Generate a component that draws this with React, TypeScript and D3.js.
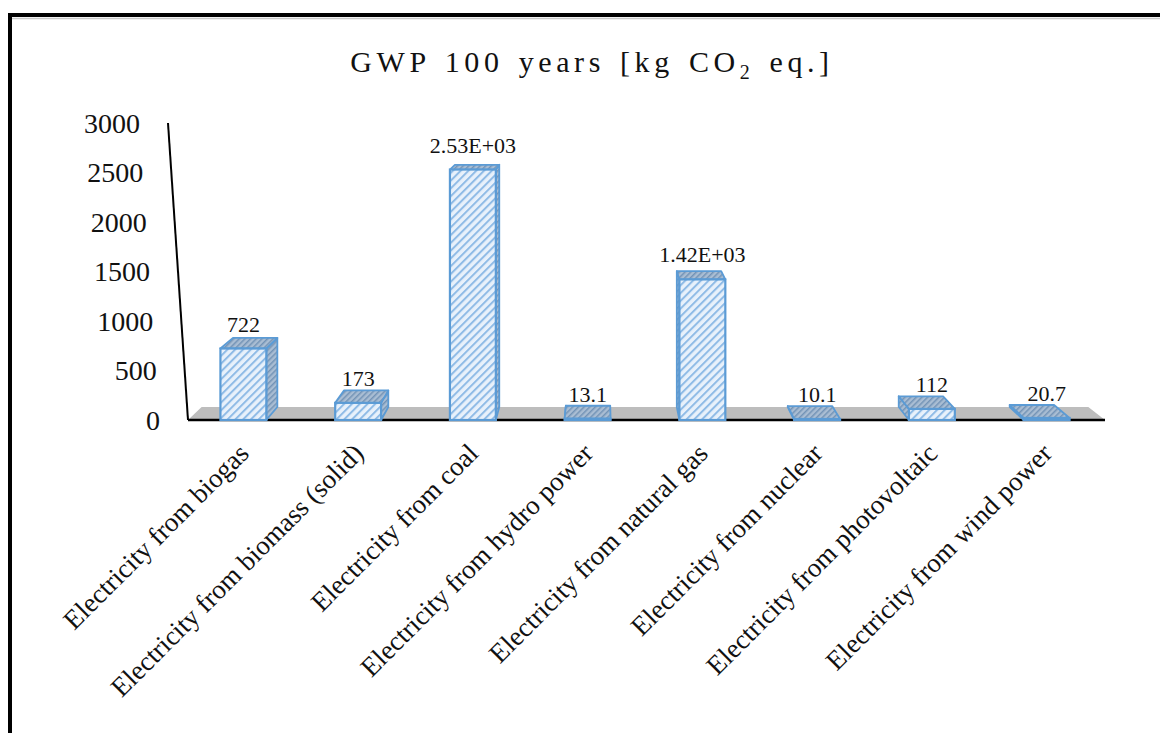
import React from "react";
import * as d3 from "d3";

// GWP 100 years per electricity source
const categories = [
  "Electricity from biogas",
  "Electricity from biomass (solid)",
  "Electricity from coal",
  "Electricity from hydro power",
  "Electricity from natural gas",
  "Electricity from nuclear",
  "Electricity from photovoltaic",
  "Electricity from wind power",
];
const values = [722, 173, 2530, 13.1, 1420, 10.1, 112, 20.7];
const valueLabels = ["722", "173", "2.53E+03", "13.1", "1.42E+03", "10.1", "112", "20.7"];
const yTicks = [0, 500, 1000, 1500, 2000, 2500, 3000];

const W = 1160;
const H = 733;
const FLOOR_Y = 420;
const TOP_Y = 123;
// one-point perspective used for the 3D depth of bars and floor
const VP: [number, number] = [600, 26];
const DEPTH = 0.033;
const SERIF = "'Liberation Serif', 'Times New Roman', Times, serif";
const EDGE = "#5b9bd5";

type Pt = [number, number];
const back = ([px, py]: Pt): Pt => [px + (VP[0] - px) * DEPTH, py + (VP[1] - py) * DEPTH];
const poly = (pts: Pt[]) => "M" + pts.map((p) => p.join(",")).join("L") + "Z";

export default function App() {
  const x = d3
    .scaleBand<string>()
    .domain(categories)
    .range([186, 1104])
    .paddingInner(0.6)
    .paddingOuter(0.3);
  const y = d3.scaleLinear().domain([0, 3000]).range([FLOOR_Y, TOP_Y]);
  // the value axis leans slightly inward toward the top
  const axisX = d3.scaleLinear().domain([FLOOR_Y, TOP_Y]).range([188, 168]);
  const bw = x.bandwidth();

  const floorL = 188;
  const floorR = 1105;
  const floorPts: Pt[] = [
    [floorL, FLOOR_Y],
    [floorR, FLOOR_Y],
    back([floorR, FLOOR_Y]),
    back([floorL, FLOOR_Y]),
  ];

  return (
    <svg
      width={W}
      height={H}
      style={{ position: "absolute", left: 0, top: 0, background: "#fff" }}
      fontFamily={SERIF}
    >
      <defs>
        <pattern id="hatchFront" width="5.5" height="5.5" patternUnits="userSpaceOnUse" patternTransform="rotate(45)">
          <rect width="5.5" height="5.5" fill="#e8f1fb" />
          <rect width="2" height="5.5" fill="#8fbbe6" />
        </pattern>
        <pattern id="hatchDark" width="4" height="4" patternUnits="userSpaceOnUse" patternTransform="rotate(45)">
          <rect width="4" height="4" fill="#a9bdd3" />
          <rect width="1.5" height="4" fill="#7393b6" />
        </pattern>
      </defs>

      {/* outer frame */}
      <rect x={10} y={15} width={1200} height={800} fill="none" stroke="#000" strokeWidth={4} />
      <line x1={12} x2={W} y1={18.5} y2={18.5} stroke="#c8c8c8" strokeWidth={1.5} />

      {/* title */}
      <text x={592} y={72} textAnchor="middle" fontSize={30} letterSpacing={4.6} wordSpacing={3} fill="#111">
        GWP 100 years [kg CO
        <tspan fontSize={20} dy={7}>2</tspan>
        <tspan dy={-7}> eq.]</tspan>
      </text>

      {/* floor */}
      <path d={poly(floorPts)} fill="#bdbdbd" />
      <line x1={floorL} x2={floorR} y1={FLOOR_Y} y2={FLOOR_Y} stroke="#000" strokeWidth={2.5} />

      {/* value axis */}
      <line x1={axisX(FLOOR_Y)} y1={FLOOR_Y} x2={axisX(TOP_Y)} y2={TOP_Y} stroke="#000" strokeWidth={2} />
      {yTicks.map((t) => (
        <text
          key={t}
          x={axisX(y(t)) - 28}
          y={y(t)}
          dy="0.35em"
          textAnchor="end"
          fontSize={28}
          fill="#111"
        >
          {t}
        </text>
      ))}

      {/* 3D bars */}
      {categories.map((c, i) => {
        const x0 = x(c)!;
        const x1 = x0 + bw;
        const yt = y(values[i]);
        const yb = FLOOR_Y;
        const top: Pt[] = [[x0, yt], [x1, yt], back([x1, yt]), back([x0, yt])];
        const sideX = x1 < VP[0] ? x1 : x0;
        const side: Pt[] = [[sideX, yt], back([sideX, yt]), back([sideX, yb]), [sideX, yb]];
        return (
          <g key={c}>
            <path d={poly(side)} fill="url(#hatchDark)" stroke={EDGE} strokeWidth={1.8} strokeLinejoin="round" />
            <path d={poly(top)} fill="url(#hatchDark)" stroke={EDGE} strokeWidth={1.8} strokeLinejoin="round" />
            <rect
              x={x0}
              y={yt}
              width={bw}
              height={yb - yt}
              fill="url(#hatchFront)"
              stroke={EDGE}
              strokeWidth={2.2}
            />
          </g>
        );
      })}

      {/* value labels */}
      {categories.map((c, i) => (
        <text
          key={c}
          x={x(c)! + bw / 2}
          y={y(values[i]) - 17}
          textAnchor="middle"
          fontSize={22}
          fill="#111"
        >
          {valueLabels[i]}
        </text>
      ))}

      {/* category labels */}
      {categories.map((c) => (
        <text
          key={c}
          transform={`translate(${x(c)! + bw / 2 + 7},${455}) rotate(-45)`}
          textAnchor="end"
          fontSize={27}
          fill="#111"
        >
          {c}
        </text>
      ))}
    </svg>
  );
}
